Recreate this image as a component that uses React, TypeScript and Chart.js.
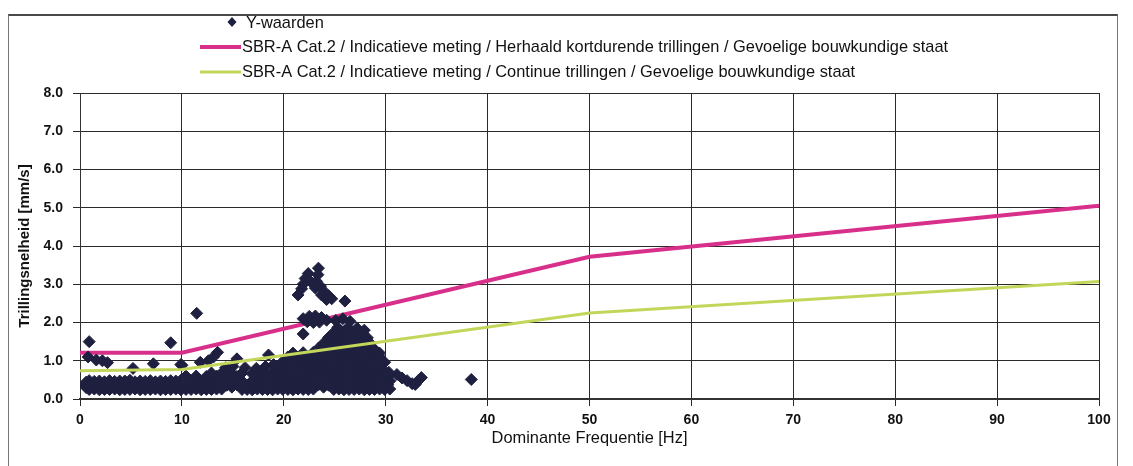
import React, { useEffect, useRef } from 'react';
import { Chart, registerables } from 'chart.js';

Chart.register(...registerables);

// ---- Data ----
const legendLabels = [
  'Y-waarden',
  'SBR-A Cat.2 / Indicatieve meting / Herhaald kortdurende trillingen / Gevoelige bouwkundige staat',
  'SBR-A Cat.2 / Indicatieve meting / Continue trillingen / Gevoelige bouwkundige staat',
];
const xTitle = 'Dominante Frequentie [Hz]';
const yTitle = 'Trillingsnelheid [mm/s]';

// Guide lines
const repeatedFreq = [0, 10, 50, 100];
const repeatedVel = [1.21, 1.21, 3.72, 5.05];
const continuousFreq = [0, 10, 50, 100];
const continuousVel = [0.74, 0.77, 2.25, 3.07];

// Measured points: [frequency Hz, velocity mm/s]
const baseBand: [number, number][] = [
  [0.9, 0.25], [1.9, 0.24], [2.9, 0.25], [3.9, 0.24], [4.9, 0.25], [5.9, 0.24], [6.9, 0.25], [7.9, 0.24],
  [8.9, 0.25], [9.9, 0.24], [10.9, 0.25], [11.9, 0.24], [12.9, 0.25], [13.9, 0.26], [14.9, 0.31], [15.9, 0.25],
  [16.9, 0.24], [17.9, 0.25], [18.9, 0.24], [19.9, 0.25], [20.9, 0.24], [21.9, 0.25], [22.9, 0.26], [23.9, 0.31],
  [24.9, 0.25], [25.9, 0.24], [26.9, 0.25], [27.9, 0.24], [28.9, 0.25], [29.9, 0.25], [30.4, 0.26],
  [1.4, 0.37], [2.4, 0.36], [3.4, 0.37], [4.4, 0.36], [5.4, 0.37], [6.4, 0.36], [7.4, 0.37], [8.4, 0.36],
  [9.4, 0.37], [10.4, 0.36], [11.4, 0.37], [12.4, 0.36], [13.4, 0.37], [14.4, 0.36], [15.4, 0.37], [16.4, 0.36],
  [17.4, 0.37], [18.4, 0.36], [19.4, 0.37], [20.4, 0.36], [21.4, 0.37], [22.4, 0.36], [23.4, 0.37], [24.4, 0.36],
  [25.4, 0.37], [26.4, 0.36], [27.4, 0.37], [28.4, 0.36], [29.4, 0.37], [30.2, 0.37],
  [0.9, 0.48], [1.9, 0.47], [2.9, 0.48], [3.9, 0.47], [4.9, 0.49], [5.9, 0.47], [6.9, 0.48], [7.9, 0.47],
  [8.9, 0.48], [9.9, 0.49], [10.9, 0.48], [11.9, 0.47], [12.9, 0.48], [13.9, 0.47], [14.9, 0.48], [15.9, 0.47],
  [16.9, 0.48], [17.9, 0.47], [18.9, 0.48], [19.9, 0.47], [20.9, 0.48], [21.9, 0.47], [22.9, 0.48], [23.9, 0.47],
  [24.9, 0.48], [25.9, 0.47], [26.9, 0.48], [27.9, 0.47], [28.9, 0.48], [29.9, 0.48], [30.4, 0.47],
];

const bandFill: [number, number][] = [
  [1.4, 0.26], [2.4, 0.25], [3.4, 0.26], [4.4, 0.25], [5.4, 0.26], [6.4, 0.25], [7.4, 0.26], [8.4, 0.25],
  [9.4, 0.26], [10.4, 0.25], [11.4, 0.26], [12.4, 0.25], [13.4, 0.26], [16.4, 0.25], [17.4, 0.26], [18.4, 0.25],
  [19.4, 0.26], [20.4, 0.25], [21.4, 0.26], [22.4, 0.25], [25.4, 0.26], [26.4, 0.25], [27.4, 0.26], [28.4, 0.25],
  [29.4, 0.26],
  [1.4, 0.46], [2.4, 0.45], [3.4, 0.46], [4.4, 0.47], [5.4, 0.45], [6.4, 0.46], [7.4, 0.45], [8.4, 0.46],
  [9.4, 0.47], [10.4, 0.46], [11.4, 0.45], [0.5, 0.36], [0.6, 0.3], [0.6, 0.44],
];

const midBand: [number, number][] = [
  [10.4, 0.6], [11.4, 0.6], [12.4, 0.59], [13.4, 0.6], [14.4, 0.6], [15.4, 0.59], [17.4, 0.6], [18.4, 0.59],
  [19.4, 0.6], [20.4, 0.6], [21.4, 0.59], [22.4, 0.6], [23.4, 0.6], [24.4, 0.59], [25.4, 0.6], [26.4, 0.6],
  [27.4, 0.59], [28.4, 0.6], [29.4, 0.6], [30.3, 0.6],
  [12.9, 0.68], [13.9, 0.68], [14.9, 0.67], [15.9, 0.68], [16.9, 0.66], [17.9, 0.68], [18.9, 0.7], [19.9, 0.72],
  [20.9, 0.72], [21.9, 0.72], [22.9, 0.72], [23.9, 0.72], [24.9, 0.72], [25.9, 0.72], [26.9, 0.72], [27.9, 0.72],
  [28.9, 0.72], [29.9, 0.72], [30.3, 0.7],
  [10.0, 0.88], [11.8, 0.96], [12.6, 1.0], [13.1, 1.1], [13.5, 1.22], [14.3, 0.82], [15.0, 0.85], [15.4, 1.05],
  [16.2, 0.82], [17.3, 0.8], [18.2, 0.85], [18.5, 1.15], [19.0, 0.9],
];

const peakBulk: [number, number][] = [
  [19.4, 0.85], [20.4, 0.85], [21.4, 0.85], [22.4, 0.85], [23.4, 0.85], [24.4, 0.85], [25.4, 0.85], [26.4, 0.85],
  [27.4, 0.85], [28.4, 0.85], [29.4, 0.85],
  [19.9, 0.98], [20.9, 0.98], [21.9, 0.98], [22.9, 0.98], [23.9, 0.98], [24.9, 0.98], [25.9, 0.98], [26.9, 0.98],
  [27.9, 0.98], [28.9, 0.98], [29.9, 0.96],
  [20.4, 1.1], [21.4, 1.1], [22.4, 1.1], [23.4, 1.1], [24.4, 1.1], [25.4, 1.1], [26.4, 1.1], [27.4, 1.1],
  [28.4, 1.1], [29.4, 1.1],
  [20.9, 1.2], [21.9, 1.21], [22.9, 1.22], [23.9, 1.23], [24.9, 1.22], [25.9, 1.22], [26.9, 1.22], [27.9, 1.22],
  [28.9, 1.22], [29.4, 1.2],
  [23.4, 1.33], [24.4, 1.35], [25.4, 1.35], [26.4, 1.35], [27.4, 1.35], [28.4, 1.35], [28.9, 1.3],
  [23.9, 1.46], [24.9, 1.48], [25.9, 1.48], [26.9, 1.48], [27.9, 1.48], [28.4, 1.48],
  [24.4, 1.61], [25.4, 1.61], [26.4, 1.61], [27.4, 1.61], [28.2, 1.6],
  [24.9, 1.74], [25.9, 1.74], [26.9, 1.74], [27.7, 1.74],
  [25.3, 1.87], [26.3, 1.87], [27.2, 1.85], [27.9, 1.8],
  [25.1, 2.05], [25.8, 2.1], [26.5, 2.03],
];

const peakCluster: [number, number][] = [
  [21.9, 2.1], [22.5, 2.16], [23.1, 2.17], [23.7, 2.13], [24.2, 2.06], [22.3, 2.02], [22.9, 2.0], [23.5, 2.01],
  [21.9, 1.7],
  [23.4, 3.42], [23.35, 3.25], [23.2, 3.08], [23.1, 2.9], [22.4, 3.28], [22.1, 3.15], [21.9, 3.0], [21.75, 2.88],
  [21.4, 2.72], [22.7, 3.05], [23.6, 2.95], [24.0, 2.8], [24.4, 2.7], [24.7, 2.62], [23.7, 2.72], [24.2, 2.6],
  [26.0, 2.56],
];

const outliers: [number, number][] = [
  [0.9, 1.5], [8.9, 1.47], [11.45, 2.24],
  [0.8, 1.1], [1.6, 1.02], [2.2, 1.0], [2.7, 0.95], [5.2, 0.8], [7.2, 0.92], [9.9, 0.9],
  [31.1, 0.64], [31.6, 0.55], [32.1, 0.48], [32.6, 0.4], [32.9, 0.38], [33.2, 0.48], [33.5, 0.56],
  [38.4, 0.51],
];

const measured = [...baseBand, ...bandFill, ...midBand, ...peakBulk, ...peakCluster, ...outliers];

const POINT_COLOR = '#1f2040';
const MAGENTA = '#d8308a';
const LIME = '#c4d65a';
const FONT = "'Liberation Sans', Arial, sans-serif";

const legendPlugin = {
  id: 'customLegend',
  afterDraw(chart: any) {
    const ctx = chart.ctx;
    const labels = chart.data.datasets.map((d: any) => d.label);
    ctx.save();
    ctx.font = `16.4px ${FONT}`;
    ctx.fillStyle = '#111';
    ctx.textBaseline = 'middle';
    ctx.textAlign = 'left';
    // scatter entry
    ctx.beginPath();
    ctx.moveTo(232, 17);
    ctx.lineTo(236.5, 22);
    ctx.lineTo(232, 27);
    ctx.lineTo(227.5, 22);
    ctx.closePath();
    ctx.fillStyle = POINT_COLOR;
    ctx.fill();
    ctx.fillStyle = '#111';
    ctx.fillText(labels[1], 246, 23);
    // magenta entry
    ctx.strokeStyle = MAGENTA;
    ctx.lineWidth = 4;
    ctx.beginPath();
    ctx.moveTo(200, 47);
    ctx.lineTo(241, 47);
    ctx.stroke();
    ctx.fillText(labels[2], 242, 47);
    // lime entry
    ctx.strokeStyle = LIME;
    ctx.lineWidth = 3;
    ctx.beginPath();
    ctx.moveTo(200, 72);
    ctx.lineTo(241, 72);
    ctx.stroke();
    ctx.fillText(labels[0], 242, 72);
    ctx.restore();
  },
};

export default function App() {
  const canvasRef = useRef<HTMLCanvasElement | null>(null);

  useEffect(() => {
    if (!canvasRef.current) return;
    Chart.defaults.font.family = FONT;
    const chart = new Chart(canvasRef.current, {
      type: 'scatter',
      data: {
        datasets: [
          {
            type: 'line',
            label: legendLabels[2],
            data: continuousFreq.map((x, i) => ({ x, y: continuousVel[i] })),
            borderColor: LIME,
            backgroundColor: LIME,
            borderWidth: 3,
            pointRadius: 0,
            tension: 0,
            fill: false,
            order: 0,
          },
          {
            type: 'scatter',
            label: legendLabels[0],
            data: measured.map(([x, y]) => ({ x, y })),
            pointStyle: 'rectRot',
            pointRadius: 6,
            pointBorderWidth: 1,
            borderWidth: 1,
            backgroundColor: POINT_COLOR,
            borderColor: POINT_COLOR,
            order: 1,
          },
          {
            type: 'line',
            label: legendLabels[1],
            data: repeatedFreq.map((x, i) => ({ x, y: repeatedVel[i] })),
            borderColor: MAGENTA,
            backgroundColor: MAGENTA,
            borderWidth: 4,
            pointRadius: 0,
            tension: 0,
            fill: false,
            order: 2,
          },
        ],
      },
      options: {
        responsive: false,
        animation: false,
        layout: { padding: { left: 0, top: 93, right: 34, bottom: 0 } },
        plugins: {
          legend: { display: false },
          tooltip: { enabled: false },
        },
        scales: {
          x: {
            type: 'linear',
            min: 0,
            max: 100,
            ticks: {
              stepSize: 10,
              color: '#111',
              font: { size: 14, weight: 'bold', family: FONT },
              padding: 6,
              maxRotation: 0,
            },
            grid: { color: '#2a2a2a', lineWidth: 1, tickLength: 7 },
            border: { color: '#333', width: 2 },
            title: {
              display: true,
              text: xTitle,
              color: '#111',
              font: { size: 16.4, family: FONT },
              padding: { top: 0, bottom: 18 },
            },
            afterFit: (scale: any) => {
              scale.height = 67;
            },
          },
          y: {
            type: 'linear',
            min: 0,
            max: 8,
            ticks: {
              stepSize: 1,
              color: '#111',
              font: { size: 14, weight: 'bold', family: FONT },
              padding: 10,
              callback: (v: any) => Number(v).toFixed(1),
            },
            grid: { color: '#2a2a2a', lineWidth: 1, tickLength: 7 },
            border: { color: '#333', width: 1 },
            title: {
              display: true,
              text: yTitle,
              color: '#111',
              font: { size: 15, weight: 'bold', family: FONT },
              padding: { top: 16, bottom: 0 },
            },
            afterFit: (scale: any) => {
              scale.width = 80;
            },
          },
        },
      },
      plugins: [legendPlugin],
    });
    return () => chart.destroy();
  }, []);

  return (
    <div style={{ position: 'fixed', left: 0, top: 0, width: 1133, height: 466, background: '#fff', overflow: 'hidden' }}>
      <div
        style={{
          position: 'absolute',
          left: 8,
          top: 14,
          width: 1110,
          height: 470,
          borderTop: '2px solid #4a4a4a',
          borderLeft: '1px solid #777',
          borderRight: '1px solid #777',
          boxSizing: 'border-box',
        }}
      />
      <canvas ref={canvasRef} width={1133} height={466} style={{ position: 'absolute', left: 0, top: 0 }} />
    </div>
  );
}
